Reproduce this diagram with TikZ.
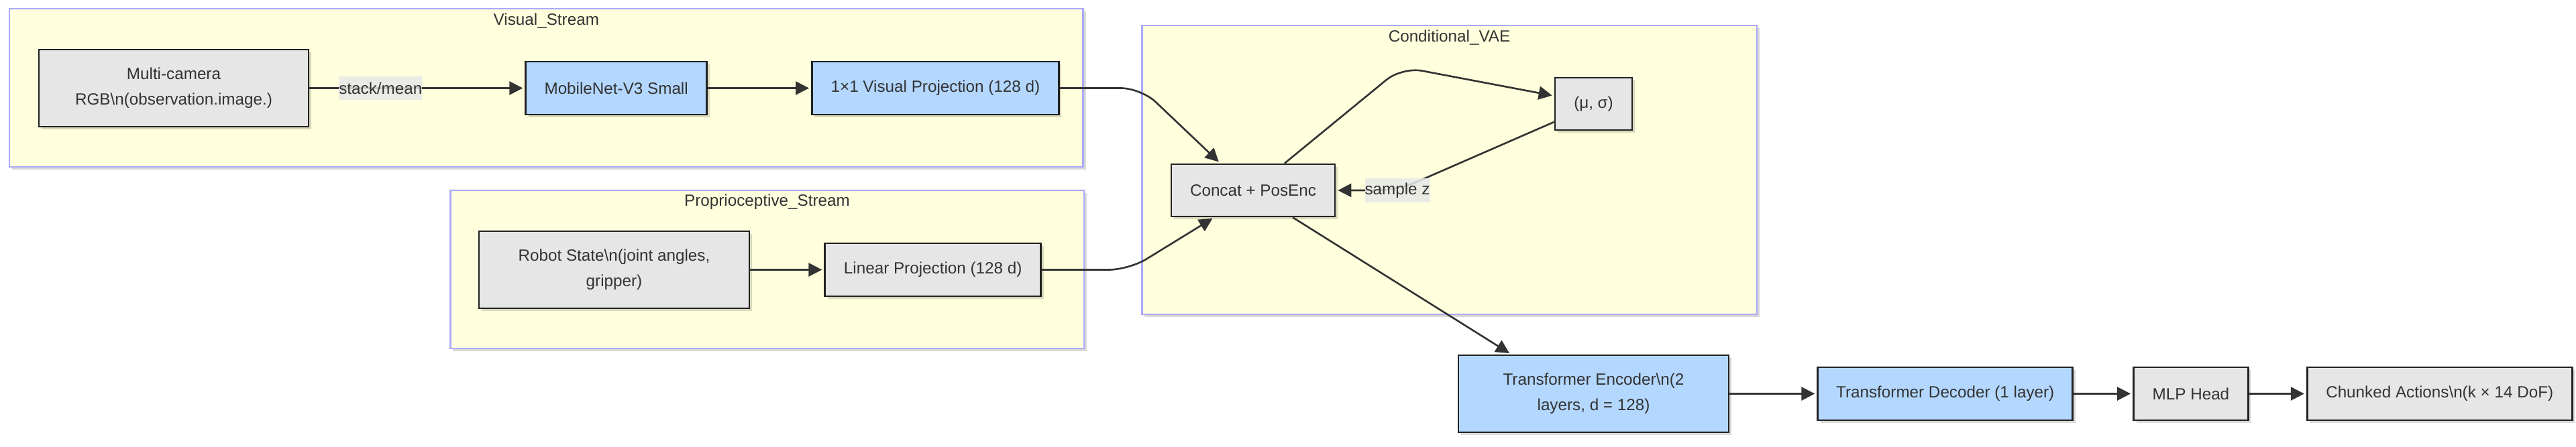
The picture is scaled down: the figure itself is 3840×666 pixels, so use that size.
\documentclass[tikz,border=0pt]{standalone}
\usepackage{fontspec}
\setmainfont{Liberation Sans}
\usetikzlibrary{arrows.meta,positioning,shadows,calc}
\definecolor{actClusterFill}{HTML}{FFFFDE}
\definecolor{actClusterLine}{HTML}{AAAAFF}
\definecolor{actGrey}{HTML}{E6E6E6}
\definecolor{actBlue}{HTML}{B3D7FF}
\definecolor{actLine}{HTML}{222222}
\definecolor{actText}{HTML}{333333}
\definecolor{actLabel}{HTML}{E8E8E8}

\begin{document}
\begin{tikzpicture}[
  x=0.02cm, y=-0.02cm,
  font=\fontsize{13.8pt}{21.6pt}\selectfont,
  text=actText,
  softshadow/.style={drop shadow={shadow xshift=0.08cm, shadow yshift=-0.08cm, opacity=0.15, fill=black}},
  block/.style={draw=actLine, line width=1.6pt, minimum height=1.58cm, align=center, inner sep=0pt, softshadow},
  greybox/.style={block, fill=actGrey},
  bluebox/.style={block, fill=actBlue},
  cluster/.style={draw=actClusterLine, fill=actClusterFill, line width=1.6pt, inner sep=0pt, softshadow},
  clustertitle/.style={inner sep=0pt},
  edgelabel/.style={fill=actLabel, fill opacity=0.85, text opacity=1, inner xsep=0pt, inner ysep=0pt, minimum height=0.72cm},
  arrow/.style={-{Triangle[length=0.4cm, width=0.4cm]}, draw=actText, line width=1.5pt, shorten >=0.06cm}
]
\useasboundingbox (0,0) rectangle (3840,666);

\node[cluster, minimum width=32.02cm, minimum height=4.72cm] (visual) at (814.35,131) {};
\node[clustertitle] (visualTitle) at ($(visual.north)+(0,20)$) {Visual\_Stream};
\node[cluster, minimum width=18.9cm, minimum height=4.72cm] (proprio) at (1143.5,402) {};
\node[clustertitle] (proprioTitle) at ($(proprio.north)+(0,19)$) {Proprioceptive\_Stream};
\node[cluster, minimum width=18.34cm, minimum height=8.62cm] (cvae) at (2160.5,253.5) {};
\node[clustertitle] (cvaeTitle) at ($(cvae.north)+(0,19)$) {Conditional\_VAE};

\node[greybox, minimum width=8.04cm, minimum height=2.3cm] (cam) at (259,131.5) {Multi-camera\\RGB\textbackslash n(observation.image.)};
\node[bluebox, minimum width=5.4cm, right=6.42cm of cam] (mobile) {MobileNet-V3 Small};
\node[bluebox, minimum width=7.36cm, right=3.08cm of mobile] (vproj) {1×1 Visual Projection (128 d)};

\node[greybox, minimum width=8.06cm, minimum height=2.3cm] (robot) at (915.5,402.5) {Robot State\textbackslash n(joint angles,\\gripper)};
\node[greybox, minimum width=6.44cm, right=2.2cm of robot] (linproj) {Linear Projection (128 d)};

\node[greybox, minimum width=4.88cm, minimum height=1.56cm] (concat) at (1868,284) {Concat + PosEnc};
\node[greybox, minimum width=2.3cm, minimum height=1.56cm] (musigma) at (2375.5,155) {(μ, σ)};

\node[bluebox, minimum width=8.06cm, minimum height=2.3cm] (encoder) at (2375.5,587.5) {Transformer Encoder\textbackslash n(2\\layers, d = 128)};
\node[bluebox, minimum width=7.6cm, right=2.6cm of encoder] (decoder) {Transformer Decoder (1 layer)};
\node[greybox, minimum width=3.42cm, right=1.76cm of decoder] (mlp) {MLP Head};
\node[greybox, minimum width=7.9cm, right=1.7cm of mlp] (chunked) {Chunked Actions\textbackslash n(k × 14 DoF)};

\coordinate (vBend) at (1701,131.5);
\coordinate (pBend) at (1683,402.5);
\coordinate (muBend) at (2090,100);
\coordinate (zBend) at (2083,284);

\draw[arrow] (cam) -- node[edgelabel, pos=0.33] (stackLbl) {stack/mean} (mobile);
\draw[arrow] (mobile) -- (vproj);
\draw[arrow] (robot) -- (linproj);
\draw[arrow, rounded corners=0.6cm] (vproj.east) -- (vBend) -- ($(concat.north)+(-49,0)$);
\draw[arrow, rounded corners=0.6cm] (linproj.east) -- (pBend) -- ($(concat.south)+(-58,0)$);
\draw[arrow, rounded corners=0.6cm] ($(concat.north)+(47,0)$) -- (muBend) -- ($(musigma.west)+(0,-12)$);
\draw[arrow, rounded corners=0.6cm] ($(musigma.west)+(0,27)$) -- (zBend) -- (concat.east);
\node[edgelabel] (zLbl) at (zBend) {sample z};
\draw[arrow] ($(concat.south)+(59,0)$) -- ($(encoder.north)+(-123,0)$);
\draw[arrow] (encoder) -- (decoder);
\draw[arrow] (decoder) -- (mlp);
\draw[arrow] (mlp) -- (chunked);
\end{tikzpicture}
\end{document}
